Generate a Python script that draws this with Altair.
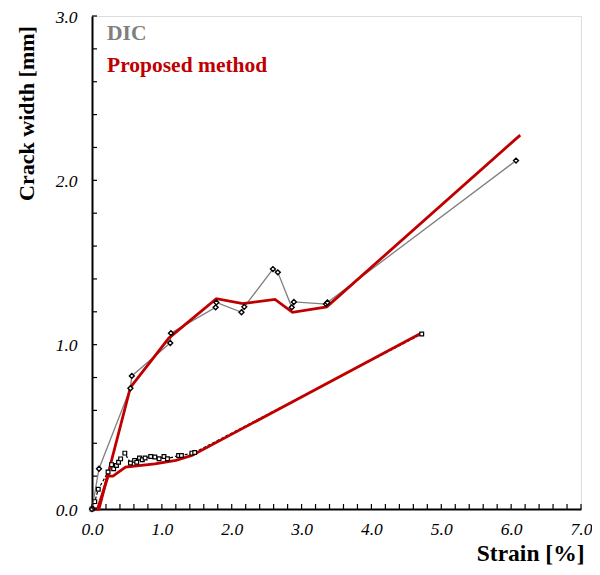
import altair as alt
import pandas as pd

# ---- data ----
dic_upper_strain = [0.0, 0.10, 0.55, 0.57, 1.12, 1.13, 1.77, 1.78, 2.14, 2.18, 2.59, 2.66, 2.86, 2.89, 3.35, 3.37, 6.07]
dic_upper_width = [0.0, 0.245, 0.735, 0.81, 1.01, 1.07, 1.227, 1.257, 1.197, 1.23, 1.46, 1.44, 1.227, 1.26, 1.247, 1.257, 2.12]

dic_lower_strain = [0.0, 0.04, 0.09, 0.23, 0.28, 0.31, 0.35, 0.38, 0.41, 0.47, 0.55, 0.61, 0.64, 0.68, 0.72, 0.76,
                    0.84, 0.90, 0.96, 1.03, 1.08, 1.24, 1.28, 1.43, 1.47, 4.72]
dic_lower_width = [0.0, 0.045, 0.12, 0.225, 0.27, 0.245, 0.265, 0.285, 0.305, 0.34, 0.28, 0.296, 0.285, 0.31, 0.30, 0.31,
                   0.32, 0.316, 0.306, 0.32, 0.306, 0.326, 0.326, 0.34, 0.344, 1.065]

prop_upper_strain = [0.0, 0.10, 0.55, 1.10, 1.78, 2.16, 2.62, 2.87, 3.36, 6.13]
prop_upper_width = [0.0, 0.0, 0.74, 1.04, 1.28, 1.25, 1.275, 1.197, 1.23, 2.275]

prop_lower_strain = [0.0, 0.08, 0.23, 0.30, 0.48, 0.90, 1.20, 1.43, 4.71]
prop_lower_width = [0.0, 0.0, 0.20, 0.20, 0.255, 0.275, 0.296, 0.326, 1.07]

legend_labels = ["DIC", "Proposed method"]
x_major = [0.0, 1.0, 2.0, 3.0, 4.0, 5.0, 6.0, 7.0]
y_major = [0.0, 1.0, 2.0, 3.0]
x_minor = [round(i * 0.2, 1) for i in range(36)]
y_minor = [round(i * 0.2, 1) for i in range(16)]

# ---- tables ----
def frame(name, xs, ys):
    return pd.DataFrame({"series": name, "strain": xs, "width": ys, "idx": list(range(len(xs)))})

df = pd.concat([
    frame("dic_upper", dic_upper_strain, dic_upper_width),
    frame("dic_lower", dic_lower_strain, dic_lower_width),
    frame("prop_upper", prop_upper_strain, prop_upper_width),
    frame("prop_lower", prop_lower_strain, prop_lower_width),
], ignore_index=True)

FONT = "Times New Roman, Liberation Serif, serif"
RED = "#C00000"
GRAY = "#7F7F7F"
W, H = 489, 493

X = alt.X("strain:Q",
          scale=alt.Scale(domain=[0, 7], nice=False, zero=False),
          axis=alt.Axis(values=x_major, format=".1f", tickSize=0, grid=False,
                        domainColor="black", domainWidth=2, labelFlush=False,
                        labelFont=FONT, labelFontStyle="italic", labelFontSize=17.5,
                        labelColor="black", labelPadding=11,
                        title="Strain [%]", titleFont=FONT, titleFontSize=23.5,
                        titleFontWeight="bold", titleColor="black",
                        titleAlign="right", titleBaseline="alphabetic",
                        titleX=W + 3, titleY=51))
Y = alt.Y("width:Q",
          scale=alt.Scale(domain=[0, 3], nice=False, zero=False),
          axis=alt.Axis(values=y_major, format=".1f", tickSize=0, grid=False,
                        domainColor="black", domainWidth=2, labelFlush=False,
                        labelFont=FONT, labelFontStyle="italic", labelFontSize=17.5,
                        labelColor="black", labelPadding=15, labelOffset=1,
                        title="Crack width [mm]", titleFont=FONT, titleFontSize=22,
                        titleFontWeight="bold", titleColor="black",
                        titleAngle=270, titleAlign="center", titleBaseline="alphabetic",
                        titleX=-59, titleY=97))

base = alt.Chart(df).encode(x=X, y=Y, order="idx:Q")

gray_line = base.transform_filter(alt.datum.series == "dic_upper").mark_line(
    color=GRAY, strokeWidth=1.3)
dash_line = base.transform_filter(alt.datum.series == "dic_lower").mark_line(
    color="black", strokeWidth=1.2, strokeDash=[3, 2])
red_up = base.transform_filter(alt.datum.series == "prop_upper").mark_line(
    color=RED, strokeWidth=2.8)
red_low = base.transform_filter(alt.datum.series == "prop_lower").mark_line(
    color=RED, strokeWidth=2.8)
pts_up = base.transform_filter(alt.datum.series == "dic_upper").mark_point(
    shape="diamond", size=24, filled=True, fill="white", stroke="black", strokeWidth=1.4, opacity=1)
pts_low = base.transform_filter(alt.datum.series == "dic_lower").mark_point(
    shape="square", size=14, filled=True, fill="white", stroke="black", strokeWidth=1.2, opacity=1)

# inward ticks
xmaj = alt.Chart(pd.DataFrame({"strain": x_minor})).mark_rule(color="black", strokeWidth=1.2).encode(
    x=X, y=alt.value(H), y2=alt.value(H - 5))
ymaj = alt.Chart(pd.DataFrame({"width": y_minor})).mark_rule(color="black", strokeWidth=1.2).encode(
    y=Y, x=alt.value(0), x2=alt.value(5))

leg_df = pd.DataFrame({"label": legend_labels})
leg_dic = alt.Chart(leg_df).transform_filter(alt.datum.label == "DIC").mark_text(
    font=FONT, fontSize=21.5, fontWeight="bold", color=GRAY, align="left", baseline="alphabetic").encode(
    text="label:N", x=alt.value(15), y=alt.value(24))
leg_prop = alt.Chart(leg_df).transform_filter(alt.datum.label == "Proposed method").mark_text(
    font=FONT, fontSize=21.5, fontWeight="bold", color=RED, align="left", baseline="alphabetic").encode(
    text="label:N", x=alt.value(15), y=alt.value(56))

chart = alt.layer(
    gray_line, dash_line, red_up, red_low, pts_up, pts_low, xmaj, ymaj, leg_dic, leg_prop
).properties(
    width=W, height=H,
    autosize=alt.AutoSizeParams(type="none"),
    padding={"left": 84, "top": 8, "right": 11, "bottom": 56},
).configure_view(stroke="black", strokeWidth=1.5).configure(background="white")

chart.save("out.html", embed_options={"renderer": "svg", "actions": False})
